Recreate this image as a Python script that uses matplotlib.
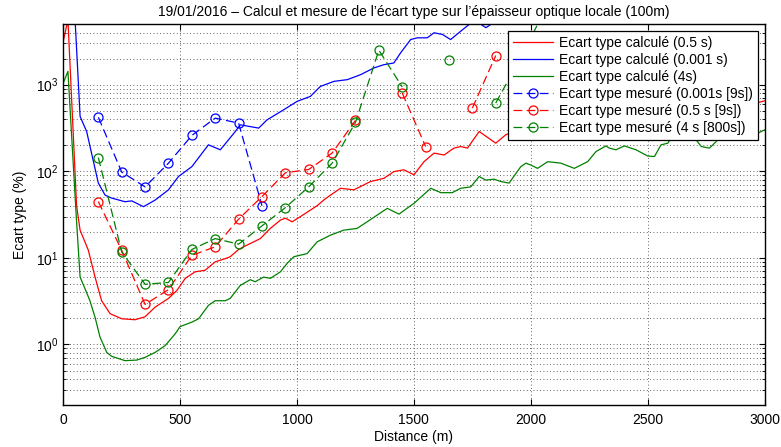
import numpy as np
import matplotlib
matplotlib.use("Agg")
import matplotlib.pyplot as plt
from matplotlib.ticker import LogLocator, NullFormatter

plt.rcParams["font.family"] = ["Liberation Sans", "DejaVu Sans"]
plt.rcParams["mathtext.fontset"] = "custom"
plt.rcParams["mathtext.rm"] = "Liberation Sans"
plt.rcParams["mathtext.it"] = "Liberation Sans:italic"

nan = np.nan

# ecart type calcule (courbes continues)
x_calc_05 = [0, 20, 57, 72, 107, 136, 164, 200, 250, 307, 350, 393, 450, 486, 522,
             564, 607, 650, 693, 714, 750, 771, 843, 886, 929, 950, 979, 1014, 1086,
             1114, 1143, 1186, 1243, 1314, 1372, 1414, 1457, 1500, 1543, 1586, 1629,
             1671, 1700, 1729, 1779, 1850, 1893, 2000, 2200, 2400, 2600, 2800, 2950, 3000]
y_calc_05 = [3180, 5600, 40, 20.9, 12.3, 6.0, 3.2, 2.27, 1.98, 1.93, 2.09, 2.7, 3.4, 4.2, 5.8,
             6.9, 7.2, 9.0, 9.8, 10.3, 12.5, 13.4, 16.7, 21.9, 27.3, 28.7, 26.1, 29.9, 40,
             46.5, 53, 63.6, 61, 76, 83, 99, 104, 91, 129, 162, 154,
             185, 193, 185, 288, 211, 264, 330, 380, 420, 480, 540, 600, 650]

x_calc_0001 = [0, 20, 50, 72, 100, 121, 150, 179, 207, 264, 293, 343, 393, 450, 493, 550,
               621, 672, 736, 757, 836, 872, 943, 1000, 1057, 1100, 1158, 1215, 1272, 1329,
               1371, 1414, 1443, 1486, 1515, 1557, 1586, 1622, 1657, 1700, 1736, 1765, 1790,
               1808, 1828, 1850, 1950, 2100, 2500, 3000]
y_calc_0001 = [2e5, 3e5, 6000, 430, 288, 162, 73, 53, 49, 44.5, 45.5, 39, 46.5, 61, 87, 113,
               202, 177, 288, 344, 315, 393, 513, 641, 732, 955, 1092, 1143, 1305, 1560,
               1700, 1780, 2330, 3320, 3475, 3475, 3975, 3800, 3320, 4140, 4960, 5600, 4900,
               4550, 4950, 6000, 9000, 15000, 40000, 80000]

x_calc_4 = [0, 20, 55, 72, 93, 114, 136, 157, 186, 207, 264, 314, 350, 393, 436, 479, 500,
            550, 579, 621, 650, 693, 714, 757, 800, 821, 857, 886, 929, 957, 986, 1043,
            1086, 1143, 1200, 1257, 1300, 1343, 1386, 1436, 1500, 1572, 1615, 1664, 1700,
            1743, 1779, 1807, 1843, 1872, 1907, 1957, 1979, 2000, 2029, 2072, 2129, 2186,
            2214, 2243, 2279, 2321, 2336, 2364, 2400, 2450, 2500, 2529, 2557, 2586, 2600,
            2650, 2707, 2729, 2764, 2786, 2830, 2886, 2914, 2957, 2986, 3000]
y_calc_4 = [1045, 1425, 32, 6.0, 4.4, 3.2, 2.06, 1.22, 0.81, 0.73, 0.65, 0.66, 0.71, 0.81,
            0.97, 1.33, 1.61, 1.81, 1.98, 2.83, 3.2, 3.2, 3.4, 4.8, 5.6, 5.3, 6.0, 5.8, 6.9,
            8.6, 10.3, 11.2, 15.3, 18.3, 20.9, 21.9, 26.1, 31.2, 37.3, 32, 42.6, 63.6, 56.6,
            56.6, 63.6, 66, 87, 79, 81, 76, 73, 113, 124, 118, 108, 129, 124, 108, 118, 129,
            169, 196, 185, 177, 196, 177, 150, 148, 202, 211, 241, 280, 231, 193, 185, 211,
            280, 252, 241, 263, 288, 300]

# ecart type mesure (points tous les 100 m)
x_mes = [150, 250, 350, 450, 550, 650, 750, 850, 950, 1050, 1150, 1250, 1350, 1450,
         1550, 1650, 1750, 1850, 1950, 2050]
y_mes_0001 = [420, 98, 66, 124, 259, 411, 360, 40, nan, nan, nan, nan, nan, nan,
              nan, nan, nan, nan, nan, nan]
y_mes_05 = [44.6, 12.2, 2.9, 4.3, 10.7, 13.4, 28, 51, 96, 105, 162, 386, nan, 800,
            193, nan, 537, 2170, nan, nan]
y_mes_4 = [144, 11.7, 4.95, 5.2, 12.5, 16.7, 14.4, 23.4, 38, 66, 124, 366, 2500, 940,
           nan, 1950, nan, 614, 1900, 6400]

red = (1, 0, 0)
blue = (0, 0, 1)
green = (0, 0.5, 0)

fig = plt.figure(figsize=(7.81, 4.47), dpi=100)
ax = fig.add_axes([0.081, 0.094, 0.898, 0.852])

ax.plot(x_calc_05, y_calc_05, color=red, lw=0.9, label="Ecart type calculé (0.5 s)")
ax.plot(x_calc_0001, y_calc_0001, color=blue, lw=0.9, label="Ecart type calculé (0.001 s)")
ax.plot(x_calc_4, y_calc_4, color=green, lw=0.9, label="Ecart type calculé (4s)")

mk = dict(lw=0.9, marker="o", ms=6.5, mfc="none", mew=0.9, dashes=(7, 3.5))
ax.plot(x_mes, y_mes_0001, color=blue, label="Ecart type mesuré (0.001s [9s])", **mk)
ax.plot(x_mes, y_mes_05, color=red, label="Ecart type mesuré (0.5 s [9s])", **mk)
ax.plot(x_mes, y_mes_4, color=green, label="Ecart type mesuré (4 s [800s])", **mk)

ax.set_yscale("log")
ax.set_xlim(0, 3000)
ax.set_ylim(0.2, 5000)
ax.set_xticks(np.arange(0, 3001, 500))
ax.yaxis.set_major_locator(LogLocator(base=10, numticks=10))
ax.yaxis.set_minor_locator(LogLocator(base=10, subs=np.arange(2, 10), numticks=20))
ax.yaxis.set_minor_formatter(NullFormatter())

ax.tick_params(which="both", direction="in", top=True, right=True, labelsize=10)
ax.tick_params(which="major", length=4, width=0.8)
ax.tick_params(which="minor", length=2.5, width=0.6)
ax.tick_params(axis="x", pad=6)

ax.grid(True, which="major", axis="x", ls=(0, (1, 3)), color="0.2", lw=0.6)
ax.grid(True, which="both", axis="y", ls=(0, (1, 3)), color="0.2", lw=0.6)
for sp in ax.spines.values():
    sp.set_linewidth(1.0)

ax.set_xlabel("Distance (m)", fontsize=10, labelpad=2)
ax.set_ylabel("Ecart type (%)", fontsize=10, labelpad=6)
ax.set_title("19/01/2016 – Calcul et mesure de l’écart type sur l’épaisseur optique locale (100m)",
             fontsize=10, pad=6)

leg = ax.legend(loc="upper right", fontsize=10, numpoints=1, handlelength=2.9,
                labelspacing=0.22, borderpad=0.35, handletextpad=0.4,
                fancybox=False, framealpha=1, edgecolor="black")
leg.get_frame().set_linewidth(0.9)

fig.savefig("out.png", dpi=100)
